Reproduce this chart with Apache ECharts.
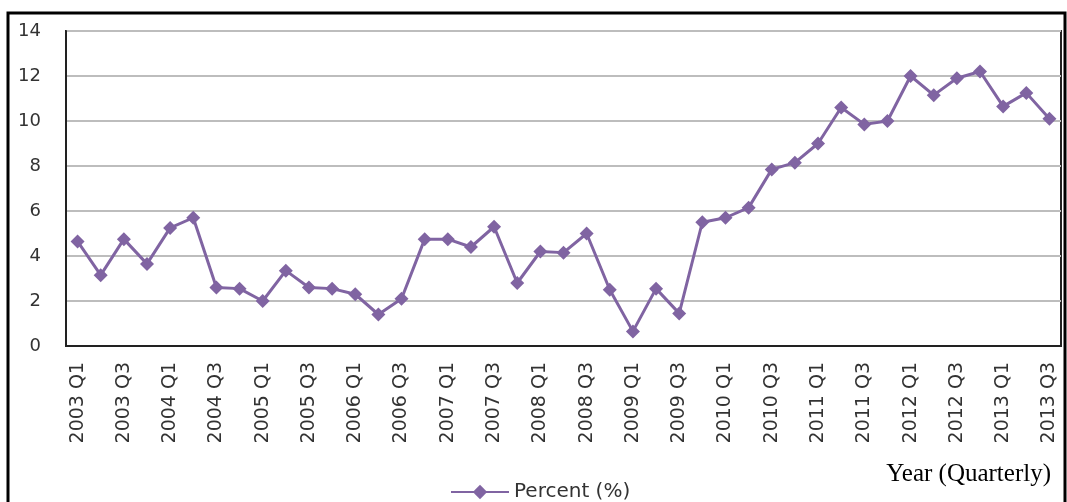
<!DOCTYPE html>
<html>
<head>
<meta charset="utf-8">
<script src="https://cdn.jsdelivr.net/npm/echarts@6/dist/echarts.min.js"></script>
<style>
  html, body { margin: 0; padding: 0; background: #fff; }
  #chart { width: 1067px; height: 502px; }
</style>
</head>
<body>
<div id="chart"></div>
<script>
const quarters = [
  '2003 Q1', '2003 Q2', '2003 Q3', '2003 Q4',
  '2004 Q1', '2004 Q2', '2004 Q3', '2004 Q4',
  '2005 Q1', '2005 Q2', '2005 Q3', '2005 Q4',
  '2006 Q1', '2006 Q2', '2006 Q3', '2006 Q4',
  '2007 Q1', '2007 Q2', '2007 Q3', '2007 Q4',
  '2008 Q1', '2008 Q2', '2008 Q3', '2008 Q4',
  '2009 Q1', '2009 Q2', '2009 Q3', '2009 Q4',
  '2010 Q1', '2010 Q2', '2010 Q3', '2010 Q4',
  '2011 Q1', '2011 Q2', '2011 Q3', '2011 Q4',
  '2012 Q1', '2012 Q2', '2012 Q3', '2012 Q4',
  '2013 Q1', '2013 Q2', '2013 Q3'
]
const percent = [
  4.65, 3.15, 4.75, 3.65, 5.25, 5.7, 2.6, 2.55, 2.0, 3.35, 2.6, 2.55, 2.3,
  1.4, 2.1, 4.75, 4.75, 4.4, 5.3, 2.8, 4.2, 4.15, 5.0, 2.5, 0.65, 2.55, 1.45,
  5.5, 5.7, 6.15, 7.85, 8.15, 9.0, 10.6, 9.85, 10.0, 12.0, 11.15, 11.9, 12.2,
  10.65, 11.25, 10.1
]
const yTicks = { min: 0, max: 14, step: 2 }

const chart = echarts.init(document.getElementById('chart'))
const option = {
  animation: false,
  graphic: [
    {
      type: 'rect',
      shape: { x: 8, y: 13, width: 1057, height: 500 },
      style: { fill: 'none', stroke: '#000', lineWidth: 3 }
    },
    {
      type: 'text',
      right: 16,
      top: 462,
      style: {
        text: 'Year (Quarterly)',
        font: '25px "Liberation Serif", "DejaVu Serif", serif',
        fill: '#000'
      }
    }
  ],
  grid: {
    left: 66,
    right: 6,
    top: 31,
    bottom: 156,
    show: true,
    borderColor: '#222',
    borderWidth: 2
  },
  legend: {
    data: ['Percent (%)'],
    left: 445,
    top: 477,
    itemWidth: 58,
    itemHeight: 18,
    itemGap: 2,
    textStyle: { color: '#333', fontSize: 20, fontFamily: 'DejaVu Sans' }
  },
  xAxis: {
    type: 'category',
    data: quarters,
    boundaryGap: true,
    axisLine: { lineStyle: { color: '#222', width: 2 } },
    axisTick: { show: false },
    axisLabel: {
      interval: 1,
      rotate: 90,
      color: '#333',
      fontSize: 19,
      fontFamily: 'DejaVu Sans',
      margin: 16
    },
    splitLine: { show: false }
  },
  yAxis: {
    type: 'value',
    min: yTicks.min,
    max: yTicks.max,
    interval: yTicks.step,
    axisLine: { show: true, lineStyle: { color: '#222', width: 2 } },
    axisTick: { show: false },
    axisLabel: {
      color: '#333',
      fontSize: 18,
      fontFamily: 'DejaVu Sans',
      margin: 25
    },
    splitLine: { lineStyle: { color: '#bdbdbd', width: 2 } }
  },
  series: [
    {
      name: 'Percent (%)',
      type: 'line',
      data: percent,
      symbol: 'diamond',
      symbolSize: 14,
      lineStyle: { color: '#8064a2', width: 3 },
      itemStyle: { color: '#8064a2' }
    }
  ]
}
chart.setOption(option)
</script>
</body>
</html>
